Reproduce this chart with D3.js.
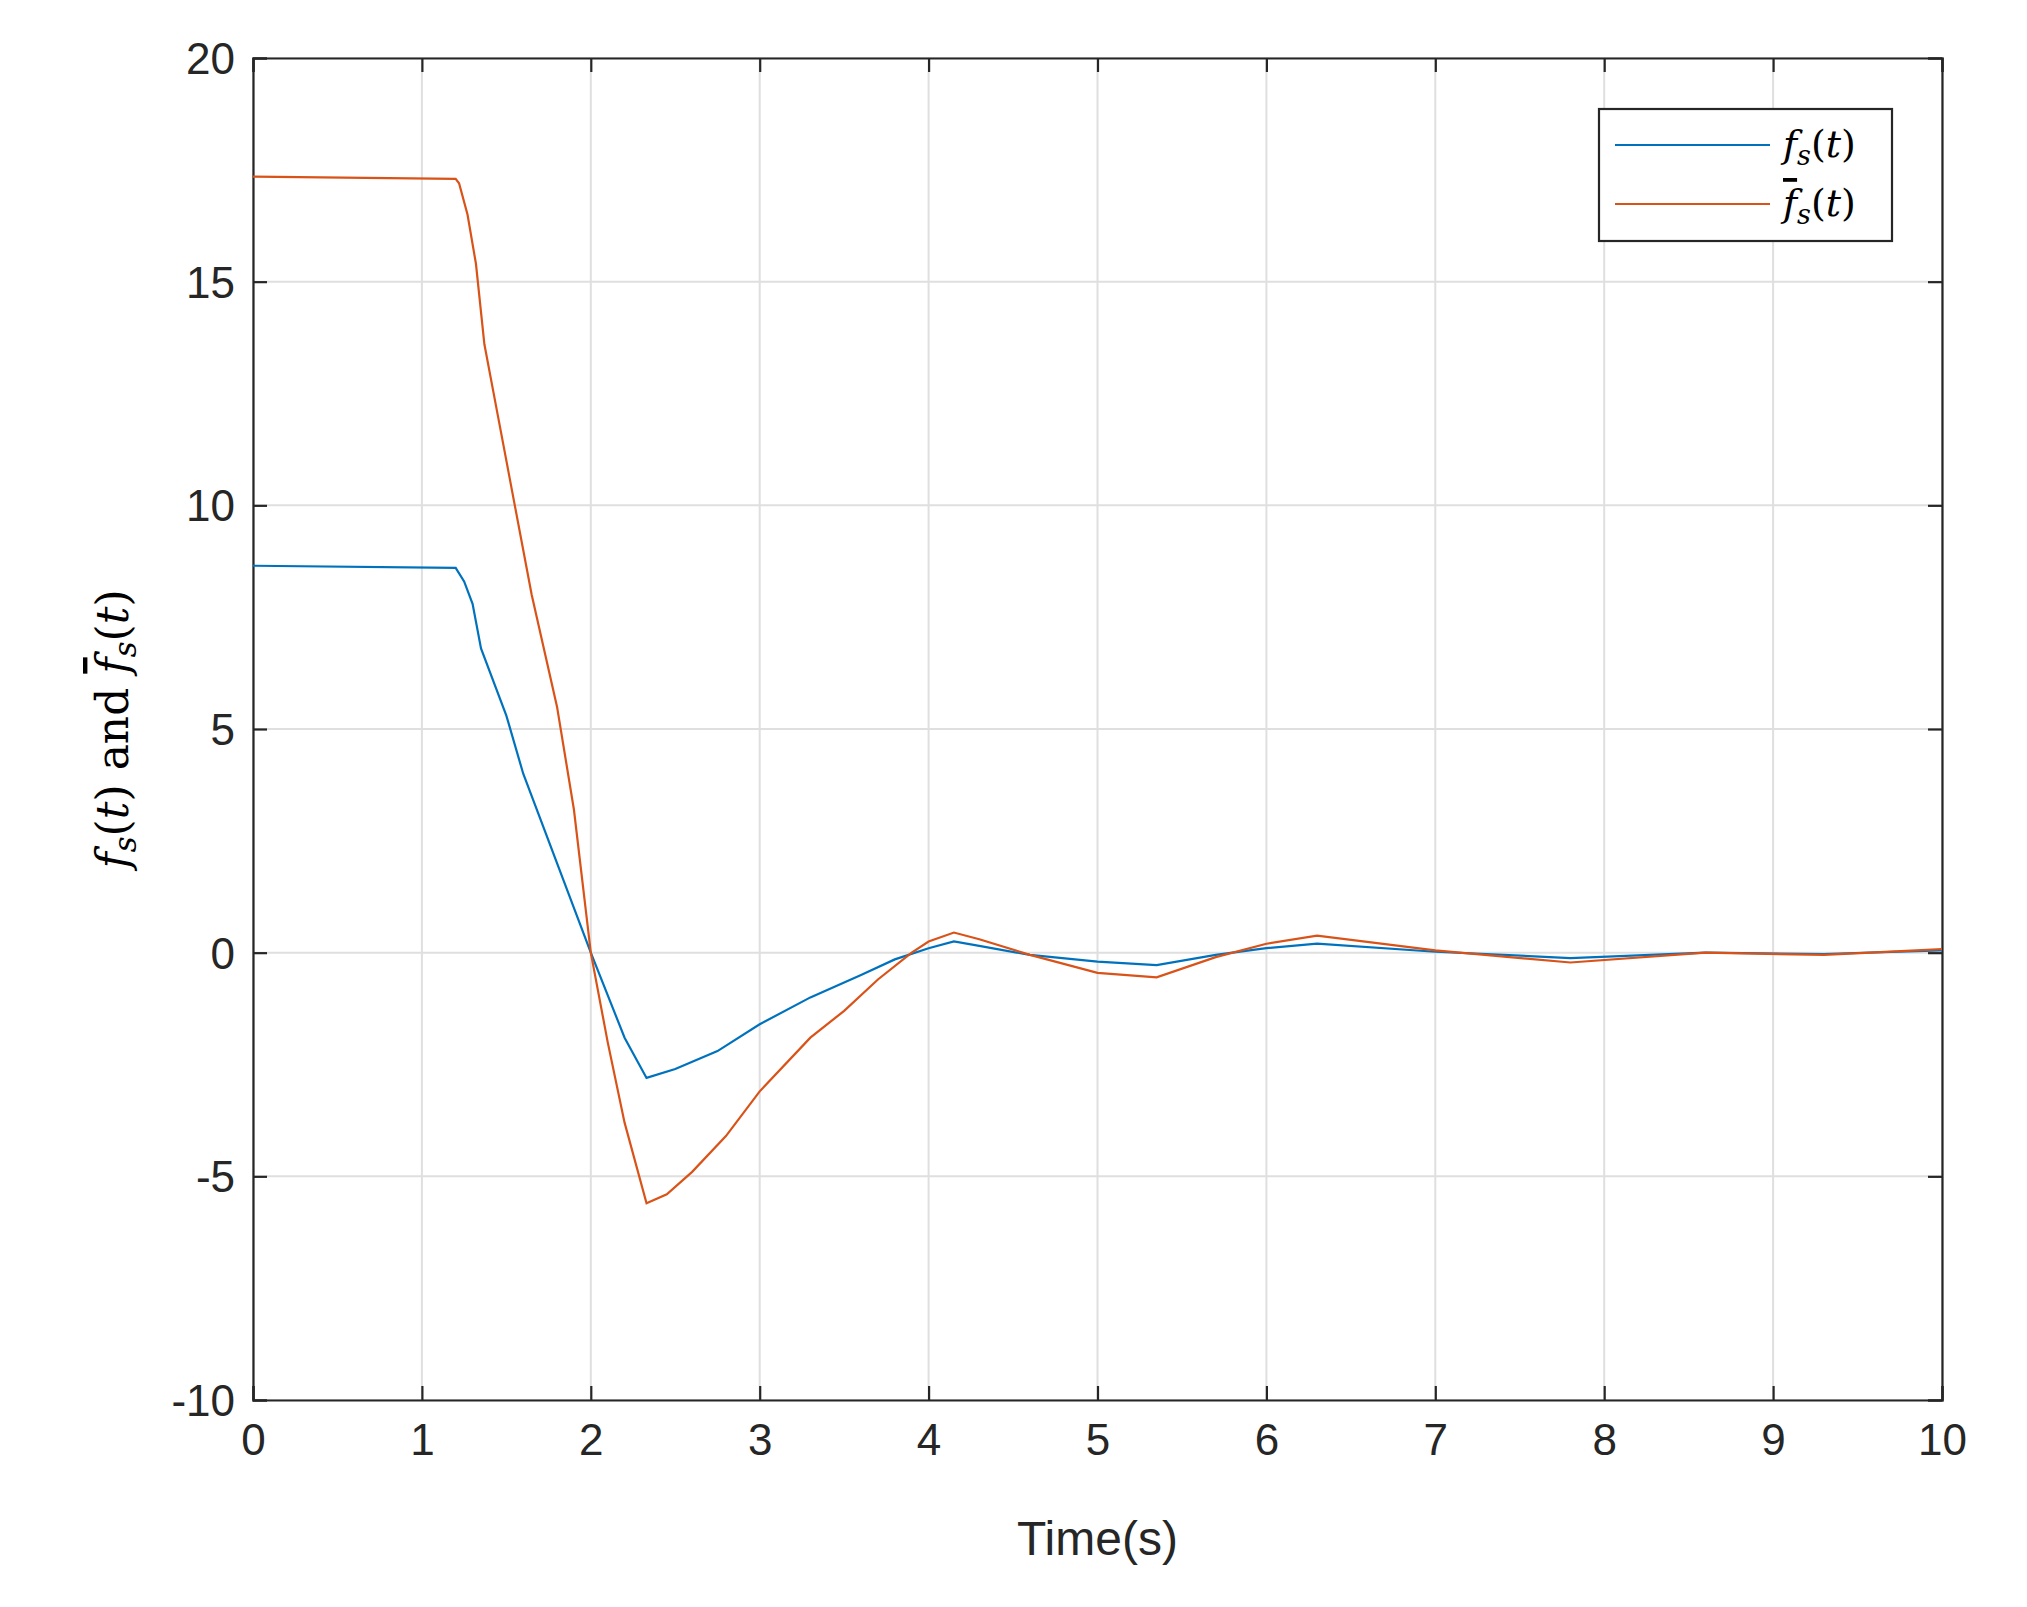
<!DOCTYPE html><html><head><meta charset="utf-8"><script src="https://cdn.jsdelivr.net/npm/d3@7"></script>
<style>body{margin:0;background:#fff}</style></head><body><svg id="c" width="2027" height="1607"></svg>
<script>
const xTicks=[0,1,2,3,4,5,6,7,8,9,10];
const yTicks=[-10,-5,0,5,10,15,20];
const blueT=[0,1.2,1.25,1.3,1.35,1.5,1.6,1.8,2.0,2.2,2.33,2.5,2.75,3.0,3.3,3.6,3.8,4.0,4.15,4.3,4.6,5.0,5.35,5.7,6.0,6.3,7.0,7.8,8.6,9.3,10];
const blueV=[8.65,8.6,8.3,7.8,6.8,5.3,4.0,2.0,0,-1.9,-2.8,-2.6,-2.2,-1.6,-1.0,-0.5,-0.15,0.1,0.25,0.15,-0.05,-0.2,-0.28,-0.05,0.1,0.2,0.02,-0.12,0,-0.03,0.05];
const redT=[0,1.2,1.22,1.27,1.32,1.37,1.45,1.55,1.65,1.8,1.9,2.0,2.1,2.2,2.33,2.45,2.6,2.8,3.0,3.3,3.5,3.7,3.9,4.0,4.15,4.3,4.6,5.0,5.35,5.7,6.0,6.3,7.0,7.8,8.6,9.3,10];
const redV=[17.35,17.3,17.2,16.5,15.4,13.6,12.0,10,8.0,5.5,3.2,0,-2,-3.8,-5.6,-5.4,-4.9,-4.1,-3.1,-1.9,-1.3,-0.6,0.0,0.25,0.45,0.3,-0.05,-0.45,-0.55,-0.1,0.2,0.38,0.05,-0.22,0,-0.05,0.08];
const svg=d3.select("#c");
const L=253,R=1942,T=58,B=1400;
const x=d3.scaleLinear().domain([0,10]).range([L,R]);
const y=d3.scaleLinear().domain([-10,20]).range([B,T]);
const g=svg.append("g");
g.selectAll(".gx").data(xTicks).enter().append("line").attr("x1",d=>x(d)).attr("x2",d=>x(d)).attr("y1",T).attr("y2",B).attr("stroke","#dfdfdf").attr("stroke-width",2);
g.selectAll(".gy").data(yTicks).enter().append("line").attr("y1",d=>y(d)).attr("y2",d=>y(d)).attr("x1",L).attr("x2",R).attr("stroke","#dfdfdf").attr("stroke-width",2);
const fnt="'Liberation Sans',Arial,sans-serif";
const fmt=d=>String(d);
const ax=svg.append("g").attr("transform",`translate(0,${B})`).call(d3.axisBottom(x).tickValues(xTicks).tickSize(-14).tickPadding(24).tickFormat(fmt));
const ax2=svg.append("g").attr("transform",`translate(0,${T})`).call(d3.axisTop(x).tickValues(xTicks).tickSize(-14).tickFormat(""));
const ay=svg.append("g").attr("transform",`translate(${L},0)`).call(d3.axisLeft(y).tickValues(yTicks).tickSize(-14).tickPadding(18).tickFormat(fmt));
const ay2=svg.append("g").attr("transform",`translate(${R},0)`).call(d3.axisRight(y).tickValues(yTicks).tickSize(-14).tickFormat(""));
[ax,ax2,ay,ay2].forEach(a=>{a.selectAll("path,line").attr("stroke","#262626").attr("stroke-width",2.2);a.selectAll("text").attr("font-family",fnt).attr("font-size",44).attr("fill","#262626");});
ay.selectAll("text").attr("dy","0.35em");
const line=d3.line().x(d=>x(d[0])).y(d=>y(d[1]));
svg.append("path").datum(blueT.map((t,i)=>[t,blueV[i]])).attr("d",line).attr("fill","none").attr("stroke","#0072BD").attr("stroke-width",2.2);
svg.append("path").datum(redT.map((t,i)=>[t,redV[i]])).attr("d",line).attr("fill","none").attr("stroke","#D95319").attr("stroke-width",2.2);
svg.append("text").attr("x",(L+R)/2).attr("y",1555).attr("text-anchor","middle").attr("font-family",fnt).attr("font-size",48).attr("fill","#262626").text("Time(s)");
const yl=svg.append("text").attr("transform",`translate(128,${(T+B)/2}) rotate(-90)`).attr("text-anchor","middle").attr("font-family","'DejaVu Serif','Liberation Serif',serif").attr("font-size",44).attr("fill","#000");
yl.append("tspan").attr("font-style","italic").text("f");
yl.append("tspan").attr("font-style","italic").attr("font-size",31).attr("dy",8).text("s");
yl.append("tspan").attr("dy",-8).text("(");
yl.append("tspan").attr("font-style","italic").text("t");
yl.append("tspan").text(") and ");
yl.append("tspan").attr("font-style","italic").attr("text-decoration","overline").text("f");
yl.append("tspan").attr("font-style","italic").attr("font-size",31).attr("dy",8).text("s");
yl.append("tspan").attr("dy",-8).text("(");
yl.append("tspan").attr("font-style","italic").text("t");
yl.append("tspan").text(")");
const lg=svg.append("g");
lg.append("rect").attr("x",1599).attr("y",109).attr("width",293).attr("height",132).attr("fill","#fff").attr("stroke","#262626").attr("stroke-width",2.2);
const items=[["#0072BD",false,145],["#D95319",true,204]];
items.forEach(([c,bar,yy])=>{
 lg.append("line").attr("x1",1615).attr("x2",1770).attr("y1",yy).attr("y2",yy).attr("stroke",c).attr("stroke-width",2.2);
 const t=lg.append("text").attr("x",1783).attr("y",yy+12).attr("font-family","'DejaVu Serif','Liberation Serif',serif").attr("font-size",38).attr("fill","#000");
 t.append("tspan").attr("font-style","italic").attr("text-decoration",bar?"overline":null).text("f");
 t.append("tspan").attr("font-style","italic").attr("font-size",27).attr("dy",8).text("s");
 t.append("tspan").attr("dy",-8).text("(");
 t.append("tspan").attr("font-style","italic").text("t");
 t.append("tspan").text(")");
});
</script></body></html>
